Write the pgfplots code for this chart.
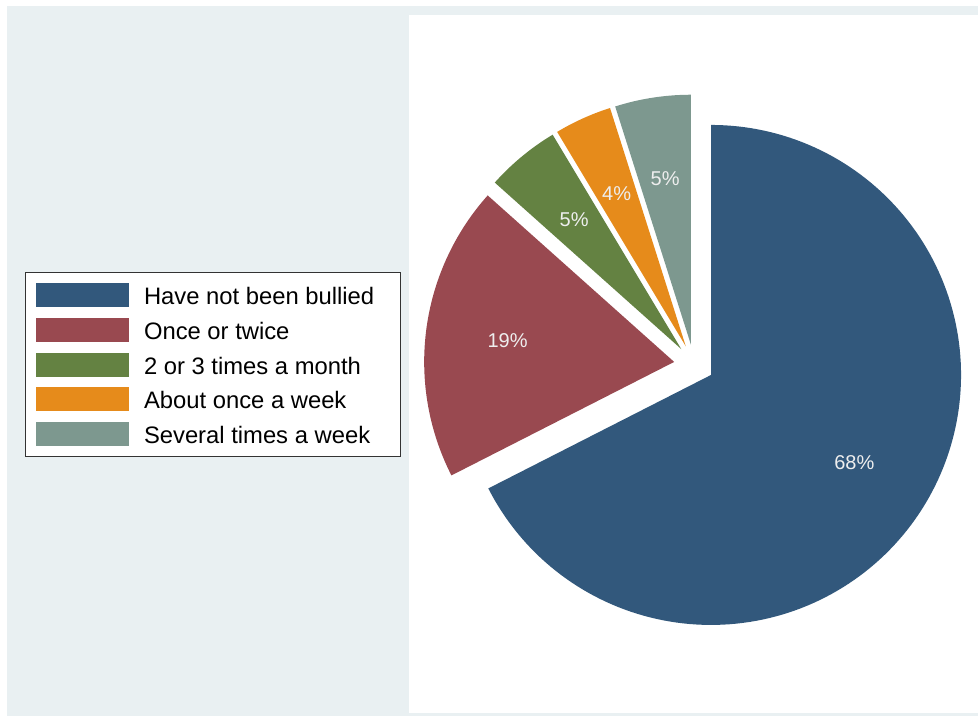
\documentclass[border=0pt]{standalone}
\usepackage{pgfplots}
\pgfplotsset{compat=1.18}
\usepackage{pgfplotstable}
\usepackage{fontspec}
\setmainfont{Liberation Sans}

\definecolor{sA}{RGB}{50,88,124}
\definecolor{sB}{RGB}{153,73,80}
\definecolor{sC}{RGB}{100,130,66}
\definecolor{sD}{RGB}{230,139,27}
\definecolor{sE}{RGB}{125,152,143}
\definecolor{bgc}{RGB}{233,240,242}
\definecolor{labc}{RGB}{238,238,238}

% share of answers, per cent
\pgfplotstableread{
value
67.5
19.1
4.8
3.7
4.9
}\piedata

% pie layout in axis units (1 unit = 1 px of the picture)
\def\pcx{694}\def\pcy{351.5}\def\rad{250}\def\expl{20}\def\lrad{168}

% slice angles, exploded centres and label spots
\gdef\cum{0}
\foreach \i/\n in {0/A,1/B,2/C,3/D,4/E}{%
  \pgfplotstablegetelem{\i}{value}\of\piedata
  \pgfmathsetmacro\va{\pgfplotsretval}%
  \pgfmathsetmacro\angS{90-3.6*\cum}%
  \pgfmathsetmacro\angE{\angS-3.6*\va}%
  \pgfmathsetmacro\angM{(\angS+\angE)/2}%
  \pgfmathsetmacro\ccx{\pcx+\expl*cos(\angM)}%
  \pgfmathsetmacro\ccy{\pcy+\expl*sin(\angM)}%
  \pgfmathsetmacro\llx{\ccx+\lrad*cos(\angM)}%
  \pgfmathsetmacro\lly{\ccy+\lrad*sin(\angM)}%
  \pgfmathtruncatemacro\lb{round(\va)}%
  \expandafter\xdef\csname from\n\endcsname{\angS}%
  \expandafter\xdef\csname to\n\endcsname{\angE}%
  \expandafter\xdef\csname cx\n\endcsname{\ccx}%
  \expandafter\xdef\csname cy\n\endcsname{\ccy}%
  \expandafter\xdef\csname lx\n\endcsname{\llx}%
  \expandafter\xdef\csname ly\n\endcsname{\lly}%
  \expandafter\xdef\csname lab\n\endcsname{\lb}%
  \pgfmathsetmacro\tmp{\cum+\va}\xdef\cum{\tmp}%
}

\begin{document}
\begin{tikzpicture}
\begin{axis}[
  scale only axis, width=489pt, height=358pt,
  xmin=0, xmax=978, ymin=0, ymax=716,
  hide axis, clip=false,
  legend style={at={(axis cs:25,444)}, anchor=north west,
    draw=black!80, line width=0.6pt, fill=white,
    inner xsep=5pt, inner ysep=2.5pt,
    font=\fontsize{11.9pt}{13pt}\selectfont,
    row sep=0pt, column sep=0pt,
    cells={anchor=base west},
    nodes={inner sep=0pt, text height=13.5pt, text depth=3.9pt}},
  legend image code/.code={
    \fill[#1] (0pt,-1.2pt) rectangle (46.5pt,10.8pt);
    \path (54.2pt,0pt);},
]
\fill[white] (axis cs:0,0) rectangle (axis cs:978,716);
\fill[bgc] (axis cs:7,0) rectangle (axis cs:978,710);
\fill[white] (axis cs:409,3) rectangle (axis cs:978,701);

\addplot[fill=sA, draw=none, domain=\toA:\fromA, samples=160]
  ({\cxA+\rad*cos(x)}, {\cyA+\rad*sin(x)}) -- (axis cs:\cxA,\cyA) -- cycle;
\addlegendentry{\makebox[123.3pt][l]{Have not been bullied}}
\addplot[fill=sB, draw=none, domain=\toB:\fromB, samples=60]
  ({\cxB+\rad*cos(x)}, {\cyB+\rad*sin(x)}) -- (axis cs:\cxB,\cyB) -- cycle;
\addlegendentry{Once or twice}
\addplot[fill=sC, draw=none, domain=\toC:\fromC, samples=20]
  ({\cxC+\rad*cos(x)}, {\cyC+\rad*sin(x)}) -- (axis cs:\cxC,\cyC) -- cycle;
\addlegendentry{2 or 3 times a month}
\addplot[fill=sD, draw=none, domain=\toD:\fromD, samples=20]
  ({\cxD+\rad*cos(x)}, {\cyD+\rad*sin(x)}) -- (axis cs:\cxD,\cyD) -- cycle;
\addlegendentry{About once a week}
\addplot[fill=sE, draw=none, domain=\toE:\fromE, samples=20]
  ({\cxE+\rad*cos(x)}, {\cyE+\rad*sin(x)}) -- (axis cs:\cxE,\cyE) -- cycle;
\addlegendentry{Several times a week}

\node[text=labc, font=\fontsize{10pt}{12pt}\selectfont] at (axis cs:\lxA,\lyA) {\labA\%};
\node[text=labc, font=\fontsize{10pt}{12pt}\selectfont] at (axis cs:\lxB,\lyB) {\labB\%};
\node[text=labc, font=\fontsize{10pt}{12pt}\selectfont] at (axis cs:\lxC,\lyC) {\labC\%};
\node[text=labc, font=\fontsize{10pt}{12pt}\selectfont] at (axis cs:\lxD,\lyD) {\labD\%};
\node[text=labc, font=\fontsize{10pt}{12pt}\selectfont] at (axis cs:\lxE,\lyE) {\labE\%};
\end{axis}
\end{tikzpicture}
\end{document}
